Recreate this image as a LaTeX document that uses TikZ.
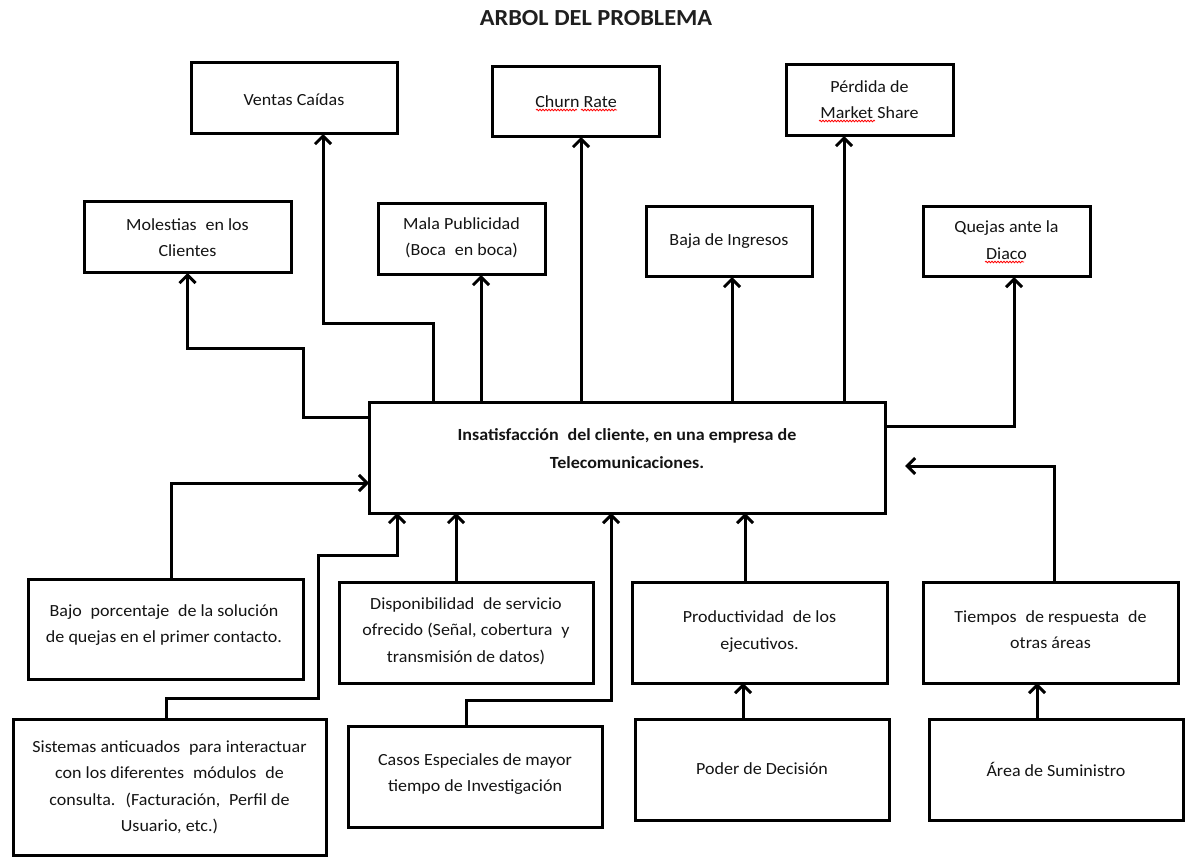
\documentclass[tikz,border=0pt]{standalone}
\usepackage{fontspec}
\setmainfont{Carlito}[FakeStretch=1.06]
\usetikzlibrary{arrows.meta,calc,decorations.pathmorphing}
\begin{document}
\begin{tikzpicture}[x=1pt,y=-1pt,
  box/.style={draw,line width=3pt,outer sep=0pt,inner sep=0pt,rectangle},
  lbl/.style={align=center,font=\fontsize{17}{26.5}\selectfont,inner sep=0pt,text=black!92},
  arr/.style={line width=3pt,-{Straight Barb[length=8pt,width=16pt]}},
  squig/.style={red,line width=0.8pt,decorate,decoration={snake,amplitude=0.8pt,segment length=3pt}}]
\useasboundingbox[fill=white] (0,0) rectangle (1186,858);

% title
\node[font=\bfseries\fontsize{23}{28}\selectfont,text=black!88] (title) at (596,18) {ARBOL DEL PROBLEMA};

% effect boxes
\node[box,minimum width=206pt,minimum height=71pt] (ventas) at (294,98.5) {};
\node[box,minimum width=167pt,minimum height=70pt] (churn) at (575.5,102) {};
\node[box,minimum width=167pt,minimum height=71pt] (perdida) at (869.5,100.5) {};
\node[box,minimum width=207pt,minimum height=71pt] (molestias) at (187.5,237.5) {};
\node[box,minimum width=167pt,minimum height=71pt] (mala) at (461.5,239.5) {};
\node[box,minimum width=166pt,minimum height=70pt] (baja) at (729,242) {};
\node[box,minimum width=167pt,minimum height=70pt] (quejas) at (1006.5,242) {};

% central problem
\node[box,minimum width=516pt,minimum height=110pt] (center) at (627,458) {};

% cause boxes
\node[box,minimum width=275pt,minimum height=100pt] (bajo) at (165.5,629) {};
\node[box,minimum width=254pt,minimum height=101pt] (disp) at (466,632.5) {};
\node[box,minimum width=255pt,minimum height=101pt] (prod) at (759.5,632.5) {};
\node[box,minimum width=255pt,minimum height=101pt] (tiempos) at (1050.5,632.5) {};
\node[box,minimum width=313pt,minimum height=136pt] (sistemas) at (169.5,787) {};
\node[box,minimum width=254pt,minimum height=101pt] (casos) at (475,776.5) {};
\node[box,minimum width=254pt,minimum height=101pt] (poder) at (762,769.5) {};
\node[box,minimum width=254pt,minimum height=101pt] (area) at (1056,769.5) {};

% labels
\node[lbl] (ventas-t) at (294,100) {Ventas Caídas};
\node[lbl] (churn-t) at (576,102) {Churn Rate};
\node[lbl] (perdida-t) at (869.5,99.5) {Pérdida de\\Market Share};
\node[lbl] (molestias-t) at (187.5,237.5) {Molestias\; en los\\Clientes};
\node[lbl] (mala-t) at (461.5,238) {Mala Publicidad\\(Boca\; en boca)};
\node[lbl] (baja-t) at (729,241) {Baja de Ingresos};
\node[lbl] (quejas-t) at (1006.5,240) {Quejas ante la\\Diaco};
\node[lbl,font=\bfseries\fontsize{17}{28}\selectfont] (center-t) at (627,449) {Insatisfacción\; del cliente, en una empresa de\\Telecomunicaciones.};
\node[lbl] (bajo-t) at (164,625) {Bajo\; porcentaje\; de la solución\\de quejas en el primer contacto.};
\node[lbl] (disp-t) at (466,631) {Disponibilidad\; de servicio\\ofrecido (Señal, cobertura\; y\\transmisión de datos)};
\node[lbl] (prod-t) at (759.5,631.5) {Productividad\; de los\\ejecutivos.};
\node[lbl] (tiempos-t) at (1050.5,629.5) {Tiempos\; de respuesta\; de\\otras áreas};
\node[lbl] (sistemas-t) at (169.5,787.5) {Sistemas anticuados\; para interactuar\\con los diferentes\; módulos\; de\\consulta.\; (Facturación,\; Perfil de\\Usuario, etc.)};
\node[lbl] (casos-t) at (475,774) {Casos Especiales de mayor\\tiempo de Investigación};
\node[lbl] (poder-t) at (762,769) {Poder de Decisión};
\node[lbl] (area-t) at (1056,769) {Área de Suministro};

% spell-check squiggles
\draw[squig] (536,110) -- (577,110);
\draw[squig] (581,110) -- (617,110);
\draw[squig] (819,121) -- (875,121);
\draw[squig] (985,262) -- (1024,262);

% effect connectors
\draw[arr] ($(center.north west)+(0,14)$) -| (303,349) -| (molestias.south);
\draw[arr] (center.north -| 433,0) |- (323,324) -- (ventas.south -| 323,0);
\draw[arr] (center.north -| 481,0) -- (mala.south -| 481,0);
\draw[arr] (center.north -| 581,0) -- (churn.south -| 581,0);
\draw[arr] (center.north -| 732,0) -- (baja.south -| 732,0);
\draw[arr] (center.north -| 844,0) -- (perdida.south -| 844,0);
\draw[arr] (center.east |- 0,426) -| (quejas.south -| 1014,0);

% cause connectors
\draw[arr] (bajo.north -| 171,0) |- (center.west |- 0,483);
\draw[arr] (sistemas.north -| 166,0) |- (318,698) |- (397,555) -- (center.south -| 397,0);
\draw[arr] (disp.north -| 456,0) -- (center.south -| 456,0);
\draw[arr] (casos.north -| 466,0) |- (611,700) -- (center.south -| 611,0);
\draw[arr] (prod.north -| 745,0) -- (center.south -| 745,0);
\draw[arr] (poder.north -| 743,0) -- (prod.south -| 743,0);
\coordinate (ttip) at (905,466);
\draw[arr] (tiempos.north -| 1054,0) |- (ttip);
\draw[arr] (area.north -| 1037,0) -- (tiempos.south -| 1037,0);
\end{tikzpicture}
\end{document}
